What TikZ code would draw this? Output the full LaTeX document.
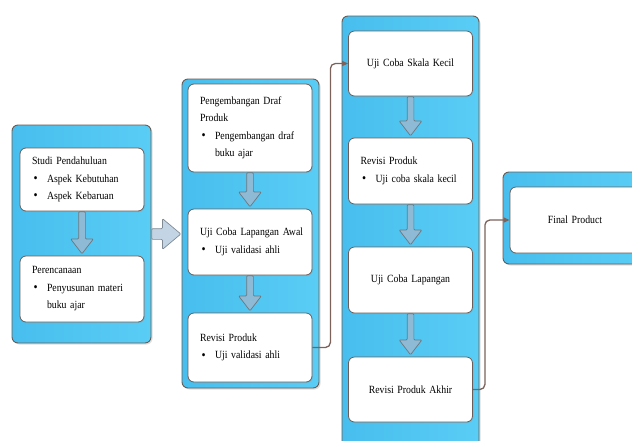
\documentclass[tikz,border=0pt]{standalone}
\usepackage{fontspec}
\setmainfont{Liberation Serif}[FakeStretch=0.89]
\usetikzlibrary{positioning, arrows.meta, calc, shapes.arrows, shadows}
\definecolor{panelleft}{HTML}{47BEEE}
\definecolor{panelright}{HTML}{5ACDF5}
\definecolor{panelframe}{HTML}{655C58}
\definecolor{boxframe}{HTML}{6B5E5A}
\definecolor{connline}{HTML}{7B625B}
\definecolor{downfill}{HTML}{8EBAD6}
\definecolor{downframe}{HTML}{6F767D}
\definecolor{rightfill}{HTML}{C3D5E5}
\definecolor{rightframe}{HTML}{7F8A95}
\newcommand{\bul}[1]{\makebox[15pt][l]{\hspace{1.5pt}\raisebox{-0.3pt}{\fontsize{13}{13}\selectfont\textbullet}}#1}
\newcommand{\cont}[1]{\hspace*{15pt}#1}
\tikzset{
  panel/.style={
    draw=panelframe,
    line width=0.9pt,
    rounded corners=6pt,
    left color=panelleft,
    right color=panelright,
    drop shadow={opacity=0.25, shadow xshift=1.5pt, shadow yshift=-1.5pt}
  },
  stagebox/.style={
    draw=boxframe,
    fill=white,
    line width=0.8pt,
    rounded corners=6pt,
    inner xsep=12pt,
    text width=100pt,
    align=left,
    minimum width=124pt,
    font=\fontsize{11}{17.5}\selectfont,
    drop shadow={opacity=0.15, shadow xshift=1pt, shadow yshift=-1pt}
  },
  stagemid/.style={stagebox, align=center},
  downarr/.style={
    single arrow,
    draw=downframe,
    fill=downfill,
    line width=0.7pt,
    inner sep=3pt,
    minimum width=22pt,
    single arrow head extend=8pt,
    single arrow tip angle=75,
    rounded corners=1pt,
    rotate=-90,
    anchor=tail
  },
  rightarr/.style={
    single arrow,
    draw=rightframe,
    fill=rightfill,
    line width=0.7pt,
    inner sep=5pt,
    minimum height=29pt,
    minimum width=30pt,
    single arrow head extend=10pt,
    single arrow tip angle=80,
    rounded corners=1pt
  },
  conn/.style={-{Triangle[length=6pt, width=5pt]}, draw=connline, line width=1.3pt, rounded corners=5pt}
}

\begin{document}
\begin{tikzpicture}[x=1pt, y=-1pt]
  \path[use as bounding box, clip] (0,0) rectangle (632,440);

  % blue panels, left to right
  \node[panel, minimum width=139pt, minimum height=218pt] (p1) at (81.5,234) {};
  \node[panel, minimum width=137pt, minimum height=309pt] (p2) at (250.5,233.5) {};
  \node[panel, minimum width=137pt, minimum height=436pt] (p3) at (410.5,234) {};
  \node[panel, minimum width=139pt, minimum height=92pt] (p4) at (572.5,218) {};

  % panel 1
  \node[stagebox, minimum height=63pt] (studi) at (82,179.5) {%
    Studi Pendahuluan\\
    \bul{Aspek Kebutuhan}\\
    \bul{Aspek Kebaruan}};
  \node[stagebox, minimum height=66pt] (peren) at (82,289) {%
    Perencanaan\\
    \bul{Penyusunan materi}\\
    \cont{buku ajar}};

  % panel 2
  \node[stagebox, minimum height=88pt] (draf) at (250,128) {%
    Pengembangan Draf\\
    Produk\\
    \bul{Pengembangan draf}\\
    \cont{buku ajar}};
  \node[stagebox, minimum height=66pt] (awal) at (250,242) {%
    \mbox{Uji Coba Lapangan Awal}\\
    \bul{Uji validasi ahli}};
  \node[stagebox, minimum height=69pt] (rev) at (250,347.5) {%
    Revisi Produk\\
    \bul{Uji validasi ahli}};

  % panel 3
  \node[stagemid, minimum height=65pt] (skala) at (410.5,63.5) {Uji Coba Skala Kecil};
  \node[stagebox, minimum height=66pt] (revk) at (410.5,171) {%
    Revisi Produk\\
    \bul{\mbox{Uji coba skala kecil}}};
  \node[stagemid, minimum height=66pt] (lap) at (410.5,280) {Uji Coba Lapangan};
  \node[stagemid, minimum height=65pt] (akhir) at (410.5,389.5) {Revisi Produk Akhir};

  % panel 4
  \node[stagemid, minimum width=130pt, minimum height=66pt] (final) at (575,220) {Final Product};

  % fat arrows inside the panels
  \foreach \a/\b/\len in {studi/peren/42, draf/awal/34, awal/rev/35, skala/revk/39, revk/lap/40, lap/akhir/41}
    \node[downarr, minimum height=\len pt] (\a-\b) at (\a.south) {};
  \node[rightarr, anchor=tail] (p1-p2) at (p1.east) {};

  % connectors between panels
  \draw[conn] (rev.east) -- ++(18,0) |- (skala.west);
  \draw[conn] (akhir.east) -- ++(12,0) |- (final.west);
\end{tikzpicture}
\end{document}
